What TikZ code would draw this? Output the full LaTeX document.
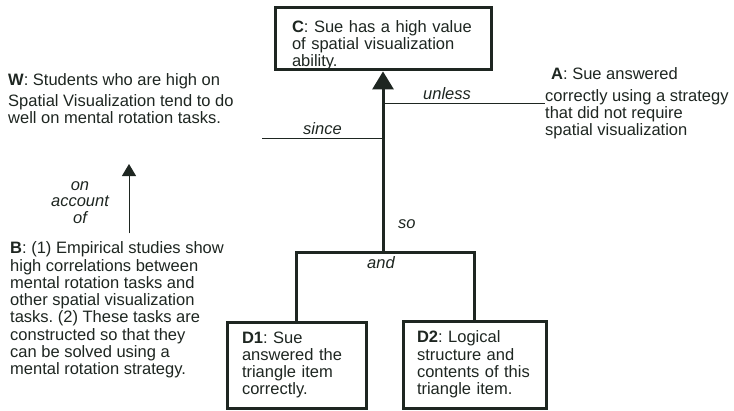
\documentclass[tikz,border=0pt]{standalone}
\usepackage{fontspec}
\setmainfont{Liberation Sans}
\usetikzlibrary{arrows.meta}
\definecolor{ink}{HTML}{1E2621}
\frenchspacing
\begin{document}
\begin{tikzpicture}[x=1pt,y=-1pt,
  txt/.style={font=\fontsize{16.5}{17.2}\selectfont, text=ink, inner sep=0pt},
  claim/.style={txt, draw=ink, line width=3pt, align=left, inner ysep=0pt},
  lbl/.style={txt, font=\fontsize{16.5}{17.2}\selectfont\itshape, anchor=base west},
  heavy/.style={draw=ink, line width=3pt},
  light/.style={draw=ink, line width=1pt}]
  \useasboundingbox[fill=white] (0,0) rectangle (734,410);

  % claim, data and rebuttal
  \node[claim, text width=182pt, inner xsep=17pt, minimum height=59pt] (C) at (383,38.5)
    {\rule{0pt}{25pt}\textbf{C}: Sue has a high value\\of spatial visualization\\ability.};
  \node[claim, text width=109pt, inner xsep=15pt, minimum height=86pt] (D1) at (296.5,365)
    {\textbf{D1}: Sue\\answered the\\triangle item\\correctly.};
  \node[claim, text width=115pt, inner xsep=14pt, minimum height=87pt] (D2) at (474.5,364.5)
    {\textbf{D2}: Logical\\structure and\\contents of this\\triangle item.};

  \node[txt, anchor=north west, align=left] (W) at (8,73.5)
    {\textbf{W}: Students who are high on\\[3.5pt]Spatial Visualization tend to do\\well on mental rotation tasks.};
  \node[txt, anchor=north west, align=left] (B) at (10,241)
    {\textbf{B}: (1) Empirical studies show\\[1pt]high correlations between\\mental rotation tasks and\\other spatial visualization\\tasks. (2) These tasks are\\constructed so that they\\can be solved using a\\mental rotation strategy.};
  \node[txt, anchor=north west, align=left] (A) at (545,67)
    {\hspace{6pt}\textbf{A}: Sue answered\\[5pt]correctly using a strategy\\that did not require\\spatial visualization};

  % connector labels
  \node[lbl] (since) at (303,134) {since};
  \node[lbl] (unless) at (423,99) {unless};
  \node[lbl] (so) at (398,228) {so};
  \node[txt, font=\fontsize{16.5}{17.2}\selectfont\itshape, anchor=base] (and) at (381,268) {and};
  \node[txt, font=\fontsize{16.5}{16.5}\selectfont\itshape, align=center, anchor=north] (onacc) at (80,181)
    {on\\account\\of};

  % data joined and leading to the claim
  \coordinate (jn) at (383,252);
  \draw[heavy, line join=miter] (D1.north) |- (jn) -| (D2.north);
  \draw[heavy, -{Triangle[width=21pt,length=18pt]}, fill=ink] (jn) -- (C.south);

  % warrant and rebuttal attached to the main arrow
  \coordinate (sinceL) at (262,138);
  \draw[light] (sinceL) -- (sinceL -| jn);
  \draw[light] (jn |- A.west) -- (A.west);

  % backing supports the warrant
  \coordinate (oaS) at (129,233);
  \coordinate (oaT) at (129,164);
  \draw[light, -{Triangle[width=14pt,length=12pt]}, fill=ink] (oaS) -- (oaT);
\end{tikzpicture}
\end{document}
